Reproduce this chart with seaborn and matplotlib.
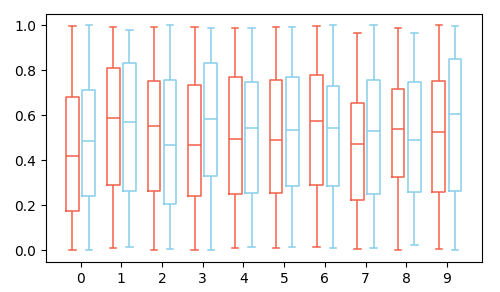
import numpy as np
import pandas as pd
import matplotlib
matplotlib.use("Agg")
import matplotlib.pyplot as plt
import seaborn as sns

categories = [str(i) for i in range(10)]
series_names = ["A", "B"]

# five-number summaries
a_min = [0.000, 0.007, 0.000, 0.000, 0.007, 0.007, 0.012, 0.003, 0.000, 0.003]
a_q1  = [0.172, 0.287, 0.261, 0.239, 0.247, 0.252, 0.287, 0.221, 0.323, 0.256]
a_med = [0.418, 0.587, 0.550, 0.465, 0.492, 0.487, 0.572, 0.470, 0.536, 0.523]
a_q3  = [0.679, 0.807, 0.750, 0.732, 0.767, 0.754, 0.776, 0.652, 0.714, 0.750]
a_max = [0.996, 0.990, 0.990, 0.990, 0.985, 0.990, 0.996, 0.963, 0.985, 1.000]

b_min = [0.000, 0.015, 0.003, 0.000, 0.012, 0.012, 0.007, 0.007, 0.021, 0.000]
b_q1  = [0.239, 0.261, 0.203, 0.327, 0.252, 0.283, 0.283, 0.247, 0.256, 0.261]
b_med = [0.483, 0.567, 0.465, 0.581, 0.541, 0.532, 0.542, 0.527, 0.487, 0.603]
b_q3  = [0.710, 0.830, 0.754, 0.830, 0.745, 0.767, 0.727, 0.754, 0.745, 0.847]
b_max = [1.000, 0.976, 1.000, 0.985, 0.985, 0.990, 1.000, 1.000, 0.963, 0.996]

colors = ["#f4604a", "#87ceeb"]

rows = []
for name, stats in zip(series_names,
                       [(a_min, a_q1, a_med, a_q3, a_max),
                        (b_min, b_q1, b_med, b_q3, b_max)]):
    for i, cat in enumerate(categories):
        for arr in stats:
            rows.append({"cat": cat, "series": name, "value": arr[i]})
df = pd.DataFrame(rows)

fig, ax = plt.subplots(figsize=(5.0, 2.92), dpi=100)
fig.subplots_adjust(left=0.092, right=0.963, top=0.952, bottom=0.103)

sns.boxplot(data=df, x="cat", y="value", hue="series", order=categories,
            hue_order=series_names, palette=colors, fill=False, whis=np.inf,
            width=0.8, gap=0.22, linewidth=1.1, legend=False, ax=ax)

ax.set_xlim(-0.85, 9.85)
ax.set_ylim(-0.053, 1.049)
ax.set_yticks([0.0, 0.2, 0.4, 0.6, 0.8, 1.0])
ax.set_xlabel("")
ax.set_ylabel("")
for s in ax.spines.values():
    s.set_visible(True)

fig.savefig("out.png", dpi=100)
